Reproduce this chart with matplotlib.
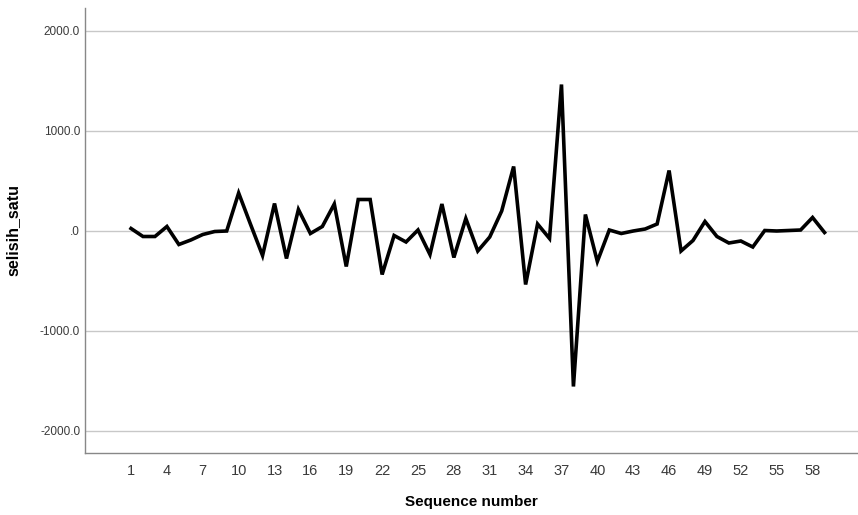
import matplotlib
matplotlib.use("Agg")
import matplotlib.pyplot as plt
import numpy as np

# selisih_satu by sequence number
seq = np.arange(1, 60)
selisih_satu = [
    20, -60, -60, 40, -140, -95, -40, -10, -5, 375,
    60, -250, 270, -280, 210, -30, 40, 265, -360, 310,
    310, -440, -50, -115, 5, -240, 265, -270, 120, -205,
    -65, 195, 640, -540, 65, -80, 1460, -1560, 160, -310,
    5, -30, -5, 15, 65, 600, -205, -100, 90, -60,
    -125, -105, -165, 0, -5, 0, 5, 130, -20,
]
xticks = np.arange(1, 59, 3)
yticks = [-2000, -1000, 0, 1000, 2000]
ytick_labels = ["-2000.0", "-1000.0", ".0", "1000.0", "2000.0"]

plt.rcParams['font.family'] = ['Liberation Sans', 'DejaVu Sans']

fig = plt.figure(figsize=(8.58, 5.15), dpi=100)
ax = fig.add_axes([85/858, 1 - 453/515, 1 - 85/858, (453 - 8)/515])

ax.plot(seq, selisih_satu, color='black', linewidth=2.6, solid_joinstyle='miter', zorder=3)

ax.set_xlim(-2.85, 61.8)
ax.set_ylim(-2225, 2225)
ax.set_xticks(xticks)
ax.set_yticks(yticks)
ax.set_yticklabels(ytick_labels)
ax.tick_params(axis='both', length=0, colors='#3a3a3a')
ax.tick_params(axis='x', labelsize=10.5, pad=8)
ax.tick_params(axis='y', labelsize=8.5, pad=3.5)
ax.grid(axis='y', color='#c8c8c8', linewidth=1)
ax.set_axisbelow(True)

for side in ['top', 'right']:
    ax.spines[side].set_visible(False)
for side in ['left', 'bottom']:
    ax.spines[side].set_color('#888888')
    ax.spines[side].set_linewidth(1)

ax.set_xlabel('Sequence number', fontsize=11, fontweight='bold', labelpad=12)
ax.set_ylabel('selisih_satu', fontsize=11.5, fontweight='bold', labelpad=14)

fig.savefig('out.png', dpi=100)
